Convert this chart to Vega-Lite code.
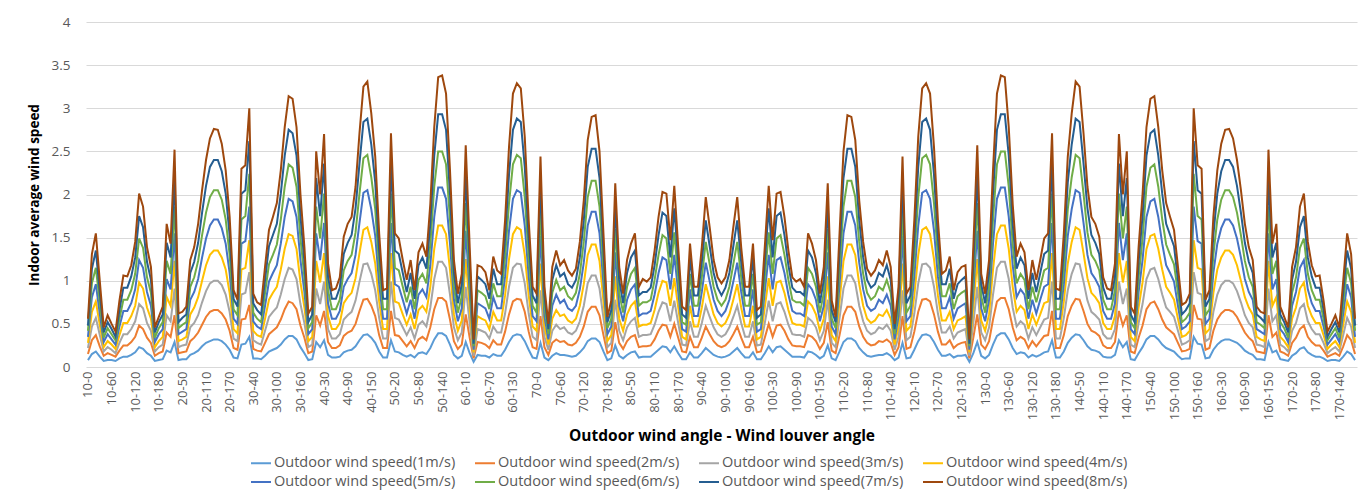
{
"$schema": "https://vega.github.io/schema/vega-lite/v6.json",
"width": 1271, "height": 345,
"autosize": "none",
"padding": {"left": 86, "top": 22, "right": 13, "bottom": 125},
"background": "white",
"config": {"font": "Open Sans", "view": {"stroke": null}},
"data": {"values": [
{"x":"10-0","s1":0.08,"s2":0.15,"s3":0.22,"s4":0.28,"s5":0.35,"s6":0.42,"s7":0.48,"s8":0.56},
{"x":"10-10","s1":0.15,"s2":0.31,"s3":0.47,"s4":0.64,"s5":0.81,"s6":0.97,"s7":1.14,"s8":1.31},
{"x":"10-20","s1":0.18,"s2":0.37,"s3":0.57,"s4":0.76,"s5":0.96,"s6":1.15,"s7":1.35,"s8":1.55},
{"x":"10-30","s1":0.12,"s2":0.24,"s3":0.37,"s4":0.49,"s5":0.62,"s6":0.75,"s7":0.87,"s8":1.0},
{"x":"10-40","s1":0.07,"s2":0.13,"s3":0.18,"s4":0.23,"s5":0.29,"s6":0.34,"s7":0.4,"s8":0.46},
{"x":"10-50","s1":0.08,"s2":0.16,"s3":0.23,"s4":0.3,"s5":0.38,"s6":0.45,"s7":0.52,"s8":0.6},
{"x":"10-60","s1":0.08,"s2":0.14,"s3":0.2,"s4":0.26,"s5":0.32,"s6":0.38,"s7":0.44,"s8":0.5},
{"x":"10-70","s1":0.07,"s2":0.12,"s3":0.16,"s4":0.21,"s5":0.26,"s6":0.31,"s7":0.35,"s8":0.41},
{"x":"10-80","s1":0.1,"s2":0.19,"s3":0.28,"s4":0.37,"s5":0.47,"s6":0.56,"s7":0.66,"s8":0.77},
{"x":"10-90","s1":0.12,"s2":0.25,"s3":0.38,"s4":0.51,"s5":0.65,"s6":0.78,"s7":0.92,"s8":1.06},
{"x":"10-100","s1":0.12,"s2":0.25,"s3":0.38,"s4":0.51,"s5":0.65,"s6":0.78,"s7":0.92,"s8":1.05},
{"x":"10-110","s1":0.14,"s2":0.29,"s3":0.44,"s4":0.59,"s5":0.74,"s6":0.89,"s7":1.05,"s8":1.18},
{"x":"10-120","s1":0.17,"s2":0.35,"s3":0.53,"s4":0.71,"s5":0.9,"s6":1.08,"s7":1.27,"s8":1.45},
{"x":"10-130","s1":0.23,"s2":0.48,"s3":0.73,"s4":0.98,"s5":1.24,"s6":1.49,"s7":1.75,"s8":2.01},
{"x":"10-140","s1":0.21,"s2":0.44,"s3":0.68,"s4":0.91,"s5":1.15,"s6":1.38,"s7":1.62,"s8":1.86},
{"x":"10-150","s1":0.16,"s2":0.34,"s3":0.51,"s4":0.69,"s5":0.87,"s6":1.04,"s7":1.22,"s8":1.39},
{"x":"10-160","s1":0.13,"s2":0.28,"s3":0.42,"s4":0.56,"s5":0.71,"s6":0.86,"s7":1.01,"s8":1.16},
{"x":"10-170","s1":0.07,"s2":0.13,"s3":0.18,"s4":0.23,"s5":0.29,"s6":0.34,"s7":0.4,"s8":0.46},
{"x":"10-180","s1":0.08,"s2":0.16,"s3":0.23,"s4":0.3,"s5":0.38,"s6":0.45,"s7":0.52,"s8":0.58},
{"x":"20-0","s1":0.09,"s2":0.18,"s3":0.26,"s4":0.35,"s5":0.44,"s6":0.52,"s7":0.61,"s8":0.7},
{"x":"20-10","s1":0.19,"s2":0.4,"s3":0.6,"s4":0.81,"s5":1.02,"s6":1.23,"s7":1.44,"s8":1.66},
{"x":"20-20","s1":0.17,"s2":0.35,"s3":0.53,"s4":0.71,"s5":0.9,"s6":1.08,"s7":1.27,"s8":1.43},
{"x":"20-30","s1":0.29,"s2":0.6,"s3":0.91,"s4":1.23,"s5":1.55,"s6":1.86,"s7":2.19,"s8":2.52},
{"x":"20-40","s1":0.08,"s2":0.16,"s3":0.23,"s4":0.3,"s5":0.38,"s6":0.45,"s7":0.52,"s8":0.62},
{"x":"20-50","s1":0.09,"s2":0.17,"s3":0.25,"s4":0.32,"s5":0.41,"s6":0.49,"s7":0.57,"s8":0.64},
{"x":"20-60","s1":0.09,"s2":0.18,"s3":0.26,"s4":0.35,"s5":0.44,"s6":0.52,"s7":0.61,"s8":0.7},
{"x":"20-70","s1":0.14,"s2":0.3,"s3":0.46,"s4":0.61,"s5":0.78,"s6":0.93,"s7":1.09,"s8":1.24},
{"x":"20-80","s1":0.16,"s2":0.34,"s3":0.51,"s4":0.69,"s5":0.87,"s6":1.04,"s7":1.22,"s8":1.39},
{"x":"20-90","s1":0.19,"s2":0.4,"s3":0.6,"s4":0.81,"s5":1.02,"s6":1.23,"s7":1.44,"s8":1.66},
{"x":"20-100","s1":0.24,"s2":0.49,"s3":0.75,"s4":1,"s5":1.27,"s6":1.53,"s7":1.79,"s8":2.05},
{"x":"20-110","s1":0.28,"s2":0.58,"s3":0.88,"s4":1.18,"s5":1.49,"s6":1.79,"s7":2.1,"s8":2.4},
{"x":"20-120","s1":0.3,"s2":0.64,"s3":0.97,"s4":1.3,"s5":1.64,"s6":1.97,"s7":2.32,"s8":2.65},
{"x":"20-130","s1":0.32,"s2":0.66,"s3":1,"s4":1.35,"s5":1.71,"s6":2.05,"s7":2.4,"s8":2.76},
{"x":"20-140","s1":0.32,"s2":0.66,"s3":1,"s4":1.35,"s5":1.71,"s6":2.05,"s7":2.4,"s8":2.75},
{"x":"20-150","s1":0.3,"s2":0.62,"s3":0.95,"s4":1.27,"s5":1.61,"s6":1.94,"s7":2.27,"s8":2.59},
{"x":"20-160","s1":0.26,"s2":0.55,"s3":0.84,"s4":1.13,"s5":1.43,"s6":1.71,"s7":2.01,"s8":2.28},
{"x":"20-170","s1":0.2,"s2":0.42,"s3":0.64,"s4":0.86,"s5":1.09,"s6":1.3,"s7":1.53,"s8":1.74},
{"x":"20-180","s1":0.11,"s2":0.22,"s3":0.33,"s4":0.44,"s5":0.56,"s6":0.67,"s7":0.79,"s8":0.89},
{"x":"30-0","s1":0.1,"s2":0.2,"s3":0.3,"s4":0.39,"s5":0.5,"s6":0.6,"s7":0.7,"s8":0.78},
{"x":"30-10","s1":0.26,"s2":0.55,"s3":0.84,"s4":1.13,"s5":1.43,"s6":1.71,"s7":2.01,"s8":2.3},
{"x":"30-20","s1":0.27,"s2":0.56,"s3":0.86,"s4":1.15,"s5":1.46,"s6":1.75,"s7":2.05,"s8":2.34},
{"x":"30-30","s1":0.35,"s2":0.72,"s3":1.1,"s4":1.47,"s5":1.86,"s6":2.24,"s7":2.62,"s8":3.0},
{"x":"30-40","s1":0.1,"s2":0.21,"s3":0.31,"s4":0.42,"s5":0.53,"s6":0.63,"s7":0.74,"s8":0.85},
{"x":"30-50","s1":0.1,"s2":0.19,"s3":0.28,"s4":0.37,"s5":0.47,"s6":0.56,"s7":0.66,"s8":0.75},
{"x":"30-60","s1":0.09,"s2":0.18,"s3":0.26,"s4":0.35,"s5":0.44,"s6":0.52,"s7":0.61,"s8":0.72},
{"x":"30-70","s1":0.13,"s2":0.28,"s3":0.42,"s4":0.56,"s5":0.71,"s6":0.86,"s7":1.01,"s8":1.16},
{"x":"30-80","s1":0.18,"s2":0.38,"s3":0.58,"s4":0.78,"s5":0.99,"s6":1.19,"s7":1.4,"s8":1.59},
{"x":"30-90","s1":0.2,"s2":0.42,"s3":0.64,"s4":0.86,"s5":1.09,"s6":1.3,"s7":1.53,"s8":1.74},
{"x":"30-100","s1":0.22,"s2":0.46,"s3":0.69,"s4":0.93,"s5":1.18,"s6":1.42,"s7":1.66,"s8":1.9},
{"x":"30-110","s1":0.26,"s2":0.55,"s3":0.84,"s4":1.13,"s5":1.43,"s6":1.71,"s7":2.01,"s8":2.28},
{"x":"30-120","s1":0.32,"s2":0.67,"s3":1.02,"s4":1.37,"s5":1.74,"s6":2.09,"s7":2.45,"s8":2.78},
{"x":"30-130","s1":0.36,"s2":0.76,"s3":1.15,"s4":1.54,"s5":1.95,"s6":2.35,"s7":2.75,"s8":3.14},
{"x":"30-140","s1":0.36,"s2":0.74,"s3":1.13,"s4":1.52,"s5":1.92,"s6":2.31,"s7":2.71,"s8":3.11},
{"x":"30-150","s1":0.32,"s2":0.67,"s3":1.02,"s4":1.37,"s5":1.74,"s6":2.09,"s7":2.45,"s8":2.78},
{"x":"30-160","s1":0.23,"s2":0.48,"s3":0.73,"s4":0.98,"s5":1.24,"s6":1.49,"s7":1.75,"s8":2.0},
{"x":"30-170","s1":0.16,"s2":0.34,"s3":0.51,"s4":0.69,"s5":0.87,"s6":1.04,"s7":1.22,"s8":1.39},
{"x":"30-180","s1":0.08,"s2":0.16,"s3":0.23,"s4":0.3,"s5":0.38,"s6":0.45,"s7":0.52,"s8":0.62},
{"x":"40-0","s1":0.09,"s2":0.18,"s3":0.26,"s4":0.35,"s5":0.44,"s6":0.52,"s7":0.61,"s8":0.7},
{"x":"40-10","s1":0.29,"s2":0.6,"s3":0.91,"s4":1.23,"s5":1.55,"s6":1.86,"s7":2.19,"s8":2.5},
{"x":"40-20","s1":0.23,"s2":0.48,"s3":0.73,"s4":0.98,"s5":1.24,"s6":1.49,"s7":1.75,"s8":2.0},
{"x":"40-30","s1":0.31,"s2":0.65,"s3":0.99,"s4":1.32,"s5":1.67,"s6":2.01,"s7":2.36,"s8":2.7},
{"x":"40-40","s1":0.14,"s2":0.29,"s3":0.44,"s4":0.59,"s5":0.74,"s6":0.89,"s7":1.05,"s8":1.2},
{"x":"40-50","s1":0.11,"s2":0.22,"s3":0.33,"s4":0.44,"s5":0.56,"s6":0.67,"s7":0.79,"s8":0.89},
{"x":"40-60","s1":0.11,"s2":0.22,"s3":0.33,"s4":0.44,"s5":0.56,"s6":0.67,"s7":0.79,"s8":0.91},
{"x":"40-70","s1":0.12,"s2":0.25,"s3":0.38,"s4":0.51,"s5":0.65,"s6":0.78,"s7":0.92,"s8":1.04},
{"x":"40-80","s1":0.17,"s2":0.36,"s3":0.55,"s4":0.74,"s5":0.93,"s6":1.12,"s7":1.31,"s8":1.51},
{"x":"40-90","s1":0.19,"s2":0.4,"s3":0.6,"s4":0.81,"s5":1.02,"s6":1.23,"s7":1.44,"s8":1.66},
{"x":"40-100","s1":0.2,"s2":0.42,"s3":0.64,"s4":0.86,"s5":1.09,"s6":1.3,"s7":1.53,"s8":1.74},
{"x":"40-110","s1":0.24,"s2":0.5,"s3":0.77,"s4":1.03,"s5":1.3,"s6":1.56,"s7":1.84,"s8":2.09},
{"x":"40-120","s1":0.31,"s2":0.65,"s3":0.99,"s4":1.32,"s5":1.67,"s6":2.01,"s7":2.36,"s8":2.71},
{"x":"40-130","s1":0.37,"s2":0.78,"s3":1.19,"s4":1.59,"s5":2.02,"s6":2.42,"s7":2.84,"s8":3.25},
{"x":"40-140","s1":0.38,"s2":0.79,"s3":1.2,"s4":1.62,"s5":2.05,"s6":2.46,"s7":2.88,"s8":3.31},
{"x":"40-150","s1":0.34,"s2":0.71,"s3":1.08,"s4":1.45,"s5":1.83,"s6":2.2,"s7":2.58,"s8":2.94},
{"x":"40-160","s1":0.28,"s2":0.59,"s3":0.89,"s4":1.2,"s5":1.52,"s6":1.83,"s7":2.14,"s8":2.44},
{"x":"40-170","s1":0.18,"s2":0.37,"s3":0.57,"s4":0.76,"s5":0.96,"s6":1.15,"s7":1.35,"s8":1.55},
{"x":"40-180","s1":0.11,"s2":0.22,"s3":0.33,"s4":0.44,"s5":0.56,"s6":0.67,"s7":0.79,"s8":0.89},
{"x":"50-0","s1":0.11,"s2":0.22,"s3":0.33,"s4":0.44,"s5":0.56,"s6":0.67,"s7":0.79,"s8":0.91},
{"x":"50-10","s1":0.31,"s2":0.65,"s3":0.99,"s4":1.32,"s5":1.67,"s6":2.01,"s7":2.36,"s8":2.71},
{"x":"50-20","s1":0.18,"s2":0.37,"s3":0.57,"s4":0.76,"s5":0.96,"s6":1.15,"s7":1.35,"s8":1.55},
{"x":"50-30","s1":0.17,"s2":0.36,"s3":0.55,"s4":0.74,"s5":0.93,"s6":1.12,"s7":1.31,"s8":1.49},
{"x":"50-40","s1":0.14,"s2":0.3,"s3":0.46,"s4":0.61,"s5":0.78,"s6":0.93,"s7":1.09,"s8":1.24},
{"x":"50-50","s1":0.12,"s2":0.24,"s3":0.37,"s4":0.49,"s5":0.62,"s6":0.75,"s7":0.87,"s8":1.01},
{"x":"50-60","s1":0.14,"s2":0.3,"s3":0.46,"s4":0.61,"s5":0.78,"s6":0.93,"s7":1.09,"s8":1.24},
{"x":"50-70","s1":0.11,"s2":0.22,"s3":0.33,"s4":0.44,"s5":0.56,"s6":0.67,"s7":0.79,"s8":0.89},
{"x":"50-80","s1":0.16,"s2":0.32,"s3":0.49,"s4":0.66,"s5":0.84,"s6":1.01,"s7":1.18,"s8":1.33},
{"x":"50-90","s1":0.17,"s2":0.35,"s3":0.53,"s4":0.71,"s5":0.9,"s6":1.08,"s7":1.27,"s8":1.43},
{"x":"50-100","s1":0.15,"s2":0.31,"s3":0.47,"s4":0.64,"s5":0.81,"s6":0.97,"s7":1.14,"s8":1.28},
{"x":"50-110","s1":0.22,"s2":0.46,"s3":0.69,"s4":0.93,"s5":1.18,"s6":1.42,"s7":1.66,"s8":1.89},
{"x":"50-120","s1":0.32,"s2":0.67,"s3":1.02,"s4":1.37,"s5":1.74,"s6":2.09,"s7":2.45,"s8":2.78},
{"x":"50-130","s1":0.39,"s2":0.8,"s3":1.22,"s4":1.64,"s5":2.08,"s6":2.5,"s7":2.93,"s8":3.36},
{"x":"50-140","s1":0.39,"s2":0.8,"s3":1.22,"s4":1.64,"s5":2.08,"s6":2.5,"s7":2.93,"s8":3.38},
{"x":"50-150","s1":0.36,"s2":0.76,"s3":1.15,"s4":1.54,"s5":1.95,"s6":2.35,"s7":2.75,"s8":3.17},
{"x":"50-160","s1":0.26,"s2":0.55,"s3":0.84,"s4":1.13,"s5":1.43,"s6":1.71,"s7":2.01,"s8":2.28},
{"x":"50-170","s1":0.14,"s2":0.3,"s3":0.46,"s4":0.61,"s5":0.78,"s6":0.93,"s7":1.09,"s8":1.24},
{"x":"50-180","s1":0.1,"s2":0.21,"s3":0.31,"s4":0.42,"s5":0.53,"s6":0.63,"s7":0.74,"s8":0.85},
{"x":"60-0","s1":0.13,"s2":0.26,"s3":0.4,"s4":0.54,"s5":0.68,"s6":0.82,"s7":0.96,"s8":1.08},
{"x":"60-10","s1":0.29,"s2":0.61,"s3":0.93,"s4":1.25,"s5":1.58,"s6":1.9,"s7":2.23,"s8":2.57},
{"x":"60-20","s1":0.16,"s2":0.34,"s3":0.51,"s4":0.69,"s5":0.87,"s6":1.04,"s7":1.22,"s8":1.4},
{"x":"60-30","s1":0.06,"s2":0.1,"s3":0.13,"s4":0.17,"s5":0.2,"s6":0.24,"s7":0.27,"s8":0.32},
{"x":"60-40","s1":0.14,"s2":0.29,"s3":0.44,"s4":0.59,"s5":0.74,"s6":0.89,"s7":1.05,"s8":1.18},
{"x":"60-50","s1":0.13,"s2":0.28,"s3":0.42,"s4":0.56,"s5":0.71,"s6":0.86,"s7":1.01,"s8":1.16},
{"x":"60-60","s1":0.13,"s2":0.26,"s3":0.4,"s4":0.54,"s5":0.68,"s6":0.82,"s7":0.96,"s8":1.1},
{"x":"60-70","s1":0.11,"s2":0.22,"s3":0.33,"s4":0.44,"s5":0.56,"s6":0.67,"s7":0.79,"s8":0.89},
{"x":"60-80","s1":0.15,"s2":0.31,"s3":0.47,"s4":0.64,"s5":0.81,"s6":0.97,"s7":1.14,"s8":1.28},
{"x":"60-90","s1":0.13,"s2":0.26,"s3":0.4,"s4":0.54,"s5":0.68,"s6":0.82,"s7":0.96,"s8":1.12},
{"x":"60-100","s1":0.13,"s2":0.26,"s3":0.4,"s4":0.54,"s5":0.68,"s6":0.82,"s7":0.96,"s8":1.08},
{"x":"60-110","s1":0.2,"s2":0.41,"s3":0.62,"s4":0.83,"s5":1.05,"s6":1.27,"s7":1.49,"s8":1.7},
{"x":"60-120","s1":0.29,"s2":0.61,"s3":0.93,"s4":1.25,"s5":1.58,"s6":1.9,"s7":2.23,"s8":2.55},
{"x":"60-130","s1":0.36,"s2":0.76,"s3":1.15,"s4":1.54,"s5":1.95,"s6":2.35,"s7":2.75,"s8":3.17},
{"x":"60-140","s1":0.38,"s2":0.79,"s3":1.2,"s4":1.62,"s5":2.05,"s6":2.46,"s7":2.88,"s8":3.29},
{"x":"60-150","s1":0.37,"s2":0.78,"s3":1.19,"s4":1.59,"s5":2.02,"s6":2.42,"s7":2.84,"s8":3.23},
{"x":"60-160","s1":0.3,"s2":0.64,"s3":0.97,"s4":1.3,"s5":1.64,"s6":1.97,"s7":2.32,"s8":2.67},
{"x":"60-170","s1":0.2,"s2":0.41,"s3":0.62,"s4":0.83,"s5":1.05,"s6":1.27,"s7":1.49,"s8":1.7},
{"x":"60-180","s1":0.11,"s2":0.23,"s3":0.35,"s4":0.47,"s5":0.59,"s6":0.71,"s7":0.83,"s8":0.93},
{"x":"70-0","s1":0.1,"s2":0.21,"s3":0.31,"s4":0.42,"s5":0.53,"s6":0.63,"s7":0.74,"s8":0.85},
{"x":"70-10","s1":0.28,"s2":0.59,"s3":0.89,"s4":1.2,"s5":1.52,"s6":1.83,"s7":2.14,"s8":2.44},
{"x":"70-20","s1":0.11,"s2":0.23,"s3":0.35,"s4":0.47,"s5":0.59,"s6":0.71,"s7":0.83,"s8":0.93},
{"x":"70-30","s1":0.08,"s2":0.14,"s3":0.2,"s4":0.26,"s5":0.32,"s6":0.38,"s7":0.44,"s8":0.5},
{"x":"70-40","s1":0.13,"s2":0.28,"s3":0.42,"s4":0.56,"s5":0.71,"s6":0.86,"s7":1.01,"s8":1.16},
{"x":"70-50","s1":0.16,"s2":0.32,"s3":0.49,"s4":0.66,"s5":0.84,"s6":1.01,"s7":1.18,"s8":1.35},
{"x":"70-60","s1":0.14,"s2":0.29,"s3":0.44,"s4":0.59,"s5":0.74,"s6":0.89,"s7":1.05,"s8":1.18},
{"x":"70-70","s1":0.14,"s2":0.3,"s3":0.46,"s4":0.61,"s5":0.78,"s6":0.93,"s7":1.09,"s8":1.24},
{"x":"70-80","s1":0.13,"s2":0.26,"s3":0.4,"s4":0.54,"s5":0.68,"s6":0.82,"s7":0.96,"s8":1.12},
{"x":"70-90","s1":0.12,"s2":0.25,"s3":0.38,"s4":0.51,"s5":0.65,"s6":0.78,"s7":0.92,"s8":1.06},
{"x":"70-100","s1":0.13,"s2":0.28,"s3":0.42,"s4":0.56,"s5":0.71,"s6":0.86,"s7":1.01,"s8":1.14},
{"x":"70-110","s1":0.17,"s2":0.35,"s3":0.53,"s4":0.71,"s5":0.9,"s6":1.08,"s7":1.27,"s8":1.45},
{"x":"70-120","s1":0.22,"s2":0.47,"s3":0.71,"s4":0.96,"s5":1.21,"s6":1.45,"s7":1.7,"s8":1.93},
{"x":"70-130","s1":0.3,"s2":0.64,"s3":0.97,"s4":1.3,"s5":1.64,"s6":1.97,"s7":2.32,"s8":2.63},
{"x":"70-140","s1":0.33,"s2":0.7,"s3":1.06,"s4":1.42,"s5":1.8,"s6":2.16,"s7":2.53,"s8":2.9},
{"x":"70-150","s1":0.33,"s2":0.7,"s3":1.06,"s4":1.42,"s5":1.8,"s6":2.16,"s7":2.53,"s8":2.92},
{"x":"70-160","s1":0.29,"s2":0.6,"s3":0.91,"s4":1.23,"s5":1.55,"s6":1.86,"s7":2.19,"s8":2.5},
{"x":"70-170","s1":0.18,"s2":0.37,"s3":0.57,"s4":0.76,"s5":0.96,"s6":1.15,"s7":1.35,"s8":1.55},
{"x":"70-180","s1":0.08,"s2":0.16,"s3":0.23,"s4":0.3,"s5":0.38,"s6":0.45,"s7":0.52,"s8":0.58},
{"x":"80-0","s1":0.1,"s2":0.19,"s3":0.28,"s4":0.37,"s5":0.47,"s6":0.56,"s7":0.66,"s8":0.77},
{"x":"80-10","s1":0.25,"s2":0.52,"s3":0.78,"s4":1.05,"s5":1.33,"s6":1.6,"s7":1.88,"s8":2.13},
{"x":"80-20","s1":0.13,"s2":0.28,"s3":0.42,"s4":0.56,"s5":0.71,"s6":0.86,"s7":1.01,"s8":1.16},
{"x":"80-30","s1":0.1,"s2":0.21,"s3":0.31,"s4":0.42,"s5":0.53,"s6":0.63,"s7":0.74,"s8":0.85},
{"x":"80-40","s1":0.14,"s2":0.3,"s3":0.46,"s4":0.61,"s5":0.78,"s6":0.93,"s7":1.09,"s8":1.24},
{"x":"80-50","s1":0.17,"s2":0.35,"s3":0.53,"s4":0.71,"s5":0.9,"s6":1.08,"s7":1.27,"s8":1.43},
{"x":"80-60","s1":0.18,"s2":0.37,"s3":0.57,"s4":0.76,"s5":0.96,"s6":1.15,"s7":1.35,"s8":1.55},
{"x":"80-70","s1":0.11,"s2":0.23,"s3":0.35,"s4":0.47,"s5":0.59,"s6":0.71,"s7":0.83,"s8":0.93},
{"x":"80-80","s1":0.12,"s2":0.24,"s3":0.37,"s4":0.49,"s5":0.62,"s6":0.75,"s7":0.87,"s8":1.02},
{"x":"80-90","s1":0.12,"s2":0.24,"s3":0.37,"s4":0.49,"s5":0.62,"s6":0.75,"s7":0.87,"s8":0.99},
{"x":"80-100","s1":0.12,"s2":0.25,"s3":0.38,"s4":0.51,"s5":0.65,"s6":0.78,"s7":0.92,"s8":1.04},
{"x":"80-110","s1":0.16,"s2":0.32,"s3":0.49,"s4":0.66,"s5":0.84,"s6":1.01,"s7":1.18,"s8":1.35},
{"x":"80-120","s1":0.2,"s2":0.42,"s3":0.64,"s4":0.86,"s5":1.09,"s6":1.3,"s7":1.53,"s8":1.74},
{"x":"80-130","s1":0.24,"s2":0.49,"s3":0.75,"s4":1,"s5":1.27,"s6":1.53,"s7":1.79,"s8":2.03},
{"x":"80-140","s1":0.23,"s2":0.48,"s3":0.73,"s4":0.98,"s5":1.24,"s6":1.49,"s7":1.75,"s8":2.01},
{"x":"80-150","s1":0.17,"s2":0.35,"s3":0.53,"s4":0.71,"s5":0.9,"s6":1.08,"s7":1.27,"s8":1.47},
{"x":"80-160","s1":0.24,"s2":0.5,"s3":0.77,"s4":1.03,"s5":1.3,"s6":1.56,"s7":1.84,"s8":2.1},
{"x":"80-170","s1":0.16,"s2":0.34,"s3":0.51,"s4":0.69,"s5":0.87,"s6":1.04,"s7":1.22,"s8":1.39},
{"x":"80-180","s1":0.09,"s2":0.18,"s3":0.26,"s4":0.35,"s5":0.44,"s6":0.52,"s7":0.61,"s8":0.7},
{"x":"90-0","s1":0.09,"s2":0.17,"s3":0.25,"s4":0.32,"s5":0.41,"s6":0.49,"s7":0.57,"s8":0.66},
{"x":"90-10","s1":0.17,"s2":0.35,"s3":0.53,"s4":0.71,"s5":0.9,"s6":1.08,"s7":1.27,"s8":1.43},
{"x":"90-20","s1":0.11,"s2":0.23,"s3":0.35,"s4":0.47,"s5":0.59,"s6":0.71,"s7":0.83,"s8":0.93},
{"x":"90-30","s1":0.11,"s2":0.23,"s3":0.35,"s4":0.47,"s5":0.59,"s6":0.71,"s7":0.83,"s8":0.93},
{"x":"90-40","s1":0.16,"s2":0.34,"s3":0.51,"s4":0.69,"s5":0.87,"s6":1.04,"s7":1.22,"s8":1.39},
{"x":"90-50","s1":0.22,"s2":0.47,"s3":0.71,"s4":0.96,"s5":1.21,"s6":1.45,"s7":1.7,"s8":1.97},
{"x":"90-60","s1":0.18,"s2":0.38,"s3":0.58,"s4":0.78,"s5":0.99,"s6":1.19,"s7":1.4,"s8":1.62},
{"x":"90-70","s1":0.14,"s2":0.3,"s3":0.46,"s4":0.61,"s5":0.78,"s6":0.93,"s7":1.09,"s8":1.24},
{"x":"90-80","s1":0.12,"s2":0.25,"s3":0.38,"s4":0.51,"s5":0.65,"s6":0.78,"s7":0.92,"s8":1.04},
{"x":"90-90","s1":0.11,"s2":0.23,"s3":0.35,"s4":0.47,"s5":0.59,"s6":0.71,"s7":0.83,"s8":0.97},
{"x":"90-100","s1":0.12,"s2":0.25,"s3":0.38,"s4":0.51,"s5":0.65,"s6":0.78,"s7":0.92,"s8":1.04},
{"x":"90-110","s1":0.14,"s2":0.3,"s3":0.46,"s4":0.61,"s5":0.78,"s6":0.93,"s7":1.09,"s8":1.24},
{"x":"90-120","s1":0.18,"s2":0.38,"s3":0.58,"s4":0.78,"s5":0.99,"s6":1.19,"s7":1.4,"s8":1.62},
{"x":"90-130","s1":0.22,"s2":0.47,"s3":0.71,"s4":0.96,"s5":1.21,"s6":1.45,"s7":1.7,"s8":1.97},
{"x":"90-140","s1":0.16,"s2":0.34,"s3":0.51,"s4":0.69,"s5":0.87,"s6":1.04,"s7":1.22,"s8":1.39},
{"x":"90-150","s1":0.11,"s2":0.23,"s3":0.35,"s4":0.47,"s5":0.59,"s6":0.71,"s7":0.83,"s8":0.93},
{"x":"90-160","s1":0.11,"s2":0.23,"s3":0.35,"s4":0.47,"s5":0.59,"s6":0.71,"s7":0.83,"s8":0.93},
{"x":"90-170","s1":0.17,"s2":0.35,"s3":0.53,"s4":0.71,"s5":0.9,"s6":1.08,"s7":1.27,"s8":1.43},
{"x":"90-180","s1":0.09,"s2":0.17,"s3":0.25,"s4":0.32,"s5":0.41,"s6":0.49,"s7":0.57,"s8":0.66},
{"x":"100-0","s1":0.09,"s2":0.18,"s3":0.26,"s4":0.35,"s5":0.44,"s6":0.52,"s7":0.61,"s8":0.7},
{"x":"100-10","s1":0.16,"s2":0.34,"s3":0.51,"s4":0.69,"s5":0.87,"s6":1.04,"s7":1.22,"s8":1.39},
{"x":"100-20","s1":0.24,"s2":0.5,"s3":0.77,"s4":1.03,"s5":1.3,"s6":1.56,"s7":1.84,"s8":2.1},
{"x":"100-30","s1":0.17,"s2":0.35,"s3":0.53,"s4":0.71,"s5":0.9,"s6":1.08,"s7":1.27,"s8":1.47},
{"x":"100-40","s1":0.23,"s2":0.48,"s3":0.73,"s4":0.98,"s5":1.24,"s6":1.49,"s7":1.75,"s8":2.01},
{"x":"100-50","s1":0.24,"s2":0.49,"s3":0.75,"s4":1,"s5":1.27,"s6":1.53,"s7":1.79,"s8":2.03},
{"x":"100-60","s1":0.2,"s2":0.42,"s3":0.64,"s4":0.86,"s5":1.09,"s6":1.3,"s7":1.53,"s8":1.74},
{"x":"100-70","s1":0.16,"s2":0.32,"s3":0.49,"s4":0.66,"s5":0.84,"s6":1.01,"s7":1.18,"s8":1.35},
{"x":"100-80","s1":0.12,"s2":0.25,"s3":0.38,"s4":0.51,"s5":0.65,"s6":0.78,"s7":0.92,"s8":1.04},
{"x":"100-90","s1":0.12,"s2":0.24,"s3":0.37,"s4":0.49,"s5":0.62,"s6":0.75,"s7":0.87,"s8":0.99},
{"x":"100-100","s1":0.12,"s2":0.24,"s3":0.37,"s4":0.49,"s5":0.62,"s6":0.75,"s7":0.87,"s8":1.02},
{"x":"100-110","s1":0.11,"s2":0.23,"s3":0.35,"s4":0.47,"s5":0.59,"s6":0.71,"s7":0.83,"s8":0.93},
{"x":"100-120","s1":0.18,"s2":0.37,"s3":0.57,"s4":0.76,"s5":0.96,"s6":1.15,"s7":1.35,"s8":1.55},
{"x":"100-130","s1":0.17,"s2":0.35,"s3":0.53,"s4":0.71,"s5":0.9,"s6":1.08,"s7":1.27,"s8":1.43},
{"x":"100-140","s1":0.14,"s2":0.3,"s3":0.46,"s4":0.61,"s5":0.78,"s6":0.93,"s7":1.09,"s8":1.24},
{"x":"100-150","s1":0.1,"s2":0.21,"s3":0.31,"s4":0.42,"s5":0.53,"s6":0.63,"s7":0.74,"s8":0.85},
{"x":"100-160","s1":0.13,"s2":0.28,"s3":0.42,"s4":0.56,"s5":0.71,"s6":0.86,"s7":1.01,"s8":1.16},
{"x":"100-170","s1":0.25,"s2":0.52,"s3":0.78,"s4":1.05,"s5":1.33,"s6":1.6,"s7":1.88,"s8":2.13},
{"x":"100-180","s1":0.1,"s2":0.19,"s3":0.28,"s4":0.37,"s5":0.47,"s6":0.56,"s7":0.66,"s8":0.77},
{"x":"110-0","s1":0.08,"s2":0.16,"s3":0.23,"s4":0.3,"s5":0.38,"s6":0.45,"s7":0.52,"s8":0.58},
{"x":"110-10","s1":0.18,"s2":0.37,"s3":0.57,"s4":0.76,"s5":0.96,"s6":1.15,"s7":1.35,"s8":1.55},
{"x":"110-20","s1":0.29,"s2":0.6,"s3":0.91,"s4":1.23,"s5":1.55,"s6":1.86,"s7":2.19,"s8":2.5},
{"x":"110-30","s1":0.33,"s2":0.7,"s3":1.06,"s4":1.42,"s5":1.8,"s6":2.16,"s7":2.53,"s8":2.92},
{"x":"110-40","s1":0.33,"s2":0.7,"s3":1.06,"s4":1.42,"s5":1.8,"s6":2.16,"s7":2.53,"s8":2.9},
{"x":"110-50","s1":0.3,"s2":0.64,"s3":0.97,"s4":1.3,"s5":1.64,"s6":1.97,"s7":2.32,"s8":2.63},
{"x":"110-60","s1":0.22,"s2":0.47,"s3":0.71,"s4":0.96,"s5":1.21,"s6":1.45,"s7":1.7,"s8":1.93},
{"x":"110-70","s1":0.17,"s2":0.35,"s3":0.53,"s4":0.71,"s5":0.9,"s6":1.08,"s7":1.27,"s8":1.45},
{"x":"110-80","s1":0.13,"s2":0.28,"s3":0.42,"s4":0.56,"s5":0.71,"s6":0.86,"s7":1.01,"s8":1.14},
{"x":"110-90","s1":0.12,"s2":0.25,"s3":0.38,"s4":0.51,"s5":0.65,"s6":0.78,"s7":0.92,"s8":1.06},
{"x":"110-100","s1":0.13,"s2":0.26,"s3":0.4,"s4":0.54,"s5":0.68,"s6":0.82,"s7":0.96,"s8":1.12},
{"x":"110-110","s1":0.14,"s2":0.3,"s3":0.46,"s4":0.61,"s5":0.78,"s6":0.93,"s7":1.09,"s8":1.24},
{"x":"110-120","s1":0.14,"s2":0.29,"s3":0.44,"s4":0.59,"s5":0.74,"s6":0.89,"s7":1.05,"s8":1.18},
{"x":"110-130","s1":0.16,"s2":0.32,"s3":0.49,"s4":0.66,"s5":0.84,"s6":1.01,"s7":1.18,"s8":1.35},
{"x":"110-140","s1":0.13,"s2":0.28,"s3":0.42,"s4":0.56,"s5":0.71,"s6":0.86,"s7":1.01,"s8":1.16},
{"x":"110-150","s1":0.08,"s2":0.14,"s3":0.2,"s4":0.26,"s5":0.32,"s6":0.38,"s7":0.44,"s8":0.5},
{"x":"110-160","s1":0.11,"s2":0.23,"s3":0.35,"s4":0.47,"s5":0.59,"s6":0.71,"s7":0.83,"s8":0.93},
{"x":"110-170","s1":0.28,"s2":0.59,"s3":0.89,"s4":1.2,"s5":1.52,"s6":1.83,"s7":2.14,"s8":2.44},
{"x":"110-180","s1":0.1,"s2":0.21,"s3":0.31,"s4":0.42,"s5":0.53,"s6":0.63,"s7":0.74,"s8":0.85},
{"x":"120-0","s1":0.11,"s2":0.23,"s3":0.35,"s4":0.47,"s5":0.59,"s6":0.71,"s7":0.83,"s8":0.93},
{"x":"120-10","s1":0.2,"s2":0.41,"s3":0.62,"s4":0.83,"s5":1.05,"s6":1.27,"s7":1.49,"s8":1.7},
{"x":"120-20","s1":0.3,"s2":0.64,"s3":0.97,"s4":1.3,"s5":1.64,"s6":1.97,"s7":2.32,"s8":2.67},
{"x":"120-30","s1":0.37,"s2":0.78,"s3":1.19,"s4":1.59,"s5":2.02,"s6":2.42,"s7":2.84,"s8":3.23},
{"x":"120-40","s1":0.38,"s2":0.79,"s3":1.2,"s4":1.62,"s5":2.05,"s6":2.46,"s7":2.88,"s8":3.29},
{"x":"120-50","s1":0.36,"s2":0.76,"s3":1.15,"s4":1.54,"s5":1.95,"s6":2.35,"s7":2.75,"s8":3.17},
{"x":"120-60","s1":0.29,"s2":0.61,"s3":0.93,"s4":1.25,"s5":1.58,"s6":1.9,"s7":2.23,"s8":2.55},
{"x":"120-70","s1":0.2,"s2":0.41,"s3":0.62,"s4":0.83,"s5":1.05,"s6":1.27,"s7":1.49,"s8":1.7},
{"x":"120-80","s1":0.13,"s2":0.26,"s3":0.4,"s4":0.54,"s5":0.68,"s6":0.82,"s7":0.96,"s8":1.08},
{"x":"120-90","s1":0.13,"s2":0.26,"s3":0.4,"s4":0.54,"s5":0.68,"s6":0.82,"s7":0.96,"s8":1.12},
{"x":"120-100","s1":0.15,"s2":0.31,"s3":0.47,"s4":0.64,"s5":0.81,"s6":0.97,"s7":1.14,"s8":1.28},
{"x":"120-110","s1":0.11,"s2":0.22,"s3":0.33,"s4":0.44,"s5":0.56,"s6":0.67,"s7":0.79,"s8":0.89},
{"x":"120-120","s1":0.13,"s2":0.26,"s3":0.4,"s4":0.54,"s5":0.68,"s6":0.82,"s7":0.96,"s8":1.1},
{"x":"120-130","s1":0.13,"s2":0.28,"s3":0.42,"s4":0.56,"s5":0.71,"s6":0.86,"s7":1.01,"s8":1.16},
{"x":"120-140","s1":0.14,"s2":0.29,"s3":0.44,"s4":0.59,"s5":0.74,"s6":0.89,"s7":1.05,"s8":1.18},
{"x":"120-150","s1":0.06,"s2":0.1,"s3":0.13,"s4":0.17,"s5":0.2,"s6":0.24,"s7":0.27,"s8":0.32},
{"x":"120-160","s1":0.16,"s2":0.34,"s3":0.51,"s4":0.69,"s5":0.87,"s6":1.04,"s7":1.22,"s8":1.4},
{"x":"120-170","s1":0.29,"s2":0.61,"s3":0.93,"s4":1.25,"s5":1.58,"s6":1.9,"s7":2.23,"s8":2.57},
{"x":"120-180","s1":0.13,"s2":0.26,"s3":0.4,"s4":0.54,"s5":0.68,"s6":0.82,"s7":0.96,"s8":1.08},
{"x":"130-0","s1":0.1,"s2":0.21,"s3":0.31,"s4":0.42,"s5":0.53,"s6":0.63,"s7":0.74,"s8":0.85},
{"x":"130-10","s1":0.14,"s2":0.3,"s3":0.46,"s4":0.61,"s5":0.78,"s6":0.93,"s7":1.09,"s8":1.24},
{"x":"130-20","s1":0.26,"s2":0.55,"s3":0.84,"s4":1.13,"s5":1.43,"s6":1.71,"s7":2.01,"s8":2.28},
{"x":"130-30","s1":0.36,"s2":0.76,"s3":1.15,"s4":1.54,"s5":1.95,"s6":2.35,"s7":2.75,"s8":3.17},
{"x":"130-40","s1":0.39,"s2":0.8,"s3":1.22,"s4":1.64,"s5":2.08,"s6":2.5,"s7":2.93,"s8":3.38},
{"x":"130-50","s1":0.39,"s2":0.8,"s3":1.22,"s4":1.64,"s5":2.08,"s6":2.5,"s7":2.93,"s8":3.36},
{"x":"130-60","s1":0.32,"s2":0.67,"s3":1.02,"s4":1.37,"s5":1.74,"s6":2.09,"s7":2.45,"s8":2.78},
{"x":"130-70","s1":0.22,"s2":0.46,"s3":0.69,"s4":0.93,"s5":1.18,"s6":1.42,"s7":1.66,"s8":1.89},
{"x":"130-80","s1":0.15,"s2":0.31,"s3":0.47,"s4":0.64,"s5":0.81,"s6":0.97,"s7":1.14,"s8":1.28},
{"x":"130-90","s1":0.17,"s2":0.35,"s3":0.53,"s4":0.71,"s5":0.9,"s6":1.08,"s7":1.27,"s8":1.43},
{"x":"130-100","s1":0.16,"s2":0.32,"s3":0.49,"s4":0.66,"s5":0.84,"s6":1.01,"s7":1.18,"s8":1.33},
{"x":"130-110","s1":0.11,"s2":0.22,"s3":0.33,"s4":0.44,"s5":0.56,"s6":0.67,"s7":0.79,"s8":0.89},
{"x":"130-120","s1":0.14,"s2":0.3,"s3":0.46,"s4":0.61,"s5":0.78,"s6":0.93,"s7":1.09,"s8":1.24},
{"x":"130-130","s1":0.12,"s2":0.24,"s3":0.37,"s4":0.49,"s5":0.62,"s6":0.75,"s7":0.87,"s8":1.01},
{"x":"130-140","s1":0.14,"s2":0.3,"s3":0.46,"s4":0.61,"s5":0.78,"s6":0.93,"s7":1.09,"s8":1.24},
{"x":"130-150","s1":0.17,"s2":0.36,"s3":0.55,"s4":0.74,"s5":0.93,"s6":1.12,"s7":1.31,"s8":1.49},
{"x":"130-160","s1":0.18,"s2":0.37,"s3":0.57,"s4":0.76,"s5":0.96,"s6":1.15,"s7":1.35,"s8":1.55},
{"x":"130-170","s1":0.31,"s2":0.65,"s3":0.99,"s4":1.32,"s5":1.67,"s6":2.01,"s7":2.36,"s8":2.71},
{"x":"130-180","s1":0.11,"s2":0.22,"s3":0.33,"s4":0.44,"s5":0.56,"s6":0.67,"s7":0.79,"s8":0.91},
{"x":"140-0","s1":0.11,"s2":0.22,"s3":0.33,"s4":0.44,"s5":0.56,"s6":0.67,"s7":0.79,"s8":0.89},
{"x":"140-10","s1":0.18,"s2":0.37,"s3":0.57,"s4":0.76,"s5":0.96,"s6":1.15,"s7":1.35,"s8":1.55},
{"x":"140-20","s1":0.28,"s2":0.59,"s3":0.89,"s4":1.2,"s5":1.52,"s6":1.83,"s7":2.14,"s8":2.44},
{"x":"140-30","s1":0.34,"s2":0.71,"s3":1.08,"s4":1.45,"s5":1.83,"s6":2.2,"s7":2.58,"s8":2.94},
{"x":"140-40","s1":0.38,"s2":0.79,"s3":1.2,"s4":1.62,"s5":2.05,"s6":2.46,"s7":2.88,"s8":3.31},
{"x":"140-50","s1":0.37,"s2":0.78,"s3":1.19,"s4":1.59,"s5":2.02,"s6":2.42,"s7":2.84,"s8":3.25},
{"x":"140-60","s1":0.31,"s2":0.65,"s3":0.99,"s4":1.32,"s5":1.67,"s6":2.01,"s7":2.36,"s8":2.71},
{"x":"140-70","s1":0.24,"s2":0.5,"s3":0.77,"s4":1.03,"s5":1.3,"s6":1.56,"s7":1.84,"s8":2.09},
{"x":"140-80","s1":0.2,"s2":0.42,"s3":0.64,"s4":0.86,"s5":1.09,"s6":1.3,"s7":1.53,"s8":1.74},
{"x":"140-90","s1":0.19,"s2":0.4,"s3":0.6,"s4":0.81,"s5":1.02,"s6":1.23,"s7":1.44,"s8":1.66},
{"x":"140-100","s1":0.17,"s2":0.36,"s3":0.55,"s4":0.74,"s5":0.93,"s6":1.12,"s7":1.31,"s8":1.51},
{"x":"140-110","s1":0.12,"s2":0.25,"s3":0.38,"s4":0.51,"s5":0.65,"s6":0.78,"s7":0.92,"s8":1.04},
{"x":"140-120","s1":0.11,"s2":0.22,"s3":0.33,"s4":0.44,"s5":0.56,"s6":0.67,"s7":0.79,"s8":0.91},
{"x":"140-130","s1":0.11,"s2":0.22,"s3":0.33,"s4":0.44,"s5":0.56,"s6":0.67,"s7":0.79,"s8":0.89},
{"x":"140-140","s1":0.14,"s2":0.29,"s3":0.44,"s4":0.59,"s5":0.74,"s6":0.89,"s7":1.05,"s8":1.2},
{"x":"140-150","s1":0.31,"s2":0.65,"s3":0.99,"s4":1.32,"s5":1.67,"s6":2.01,"s7":2.36,"s8":2.7},
{"x":"140-160","s1":0.23,"s2":0.48,"s3":0.73,"s4":0.98,"s5":1.24,"s6":1.49,"s7":1.75,"s8":2.0},
{"x":"140-170","s1":0.29,"s2":0.6,"s3":0.91,"s4":1.23,"s5":1.55,"s6":1.86,"s7":2.19,"s8":2.5},
{"x":"140-180","s1":0.09,"s2":0.18,"s3":0.26,"s4":0.35,"s5":0.44,"s6":0.52,"s7":0.61,"s8":0.7},
{"x":"150-0","s1":0.08,"s2":0.16,"s3":0.23,"s4":0.3,"s5":0.38,"s6":0.45,"s7":0.52,"s8":0.62},
{"x":"150-10","s1":0.16,"s2":0.34,"s3":0.51,"s4":0.69,"s5":0.87,"s6":1.04,"s7":1.22,"s8":1.39},
{"x":"150-20","s1":0.23,"s2":0.48,"s3":0.73,"s4":0.98,"s5":1.24,"s6":1.49,"s7":1.75,"s8":2.0},
{"x":"150-30","s1":0.32,"s2":0.67,"s3":1.02,"s4":1.37,"s5":1.74,"s6":2.09,"s7":2.45,"s8":2.78},
{"x":"150-40","s1":0.36,"s2":0.74,"s3":1.13,"s4":1.52,"s5":1.92,"s6":2.31,"s7":2.71,"s8":3.11},
{"x":"150-50","s1":0.36,"s2":0.76,"s3":1.15,"s4":1.54,"s5":1.95,"s6":2.35,"s7":2.75,"s8":3.14},
{"x":"150-60","s1":0.32,"s2":0.67,"s3":1.02,"s4":1.37,"s5":1.74,"s6":2.09,"s7":2.45,"s8":2.78},
{"x":"150-70","s1":0.26,"s2":0.55,"s3":0.84,"s4":1.13,"s5":1.43,"s6":1.71,"s7":2.01,"s8":2.28},
{"x":"150-80","s1":0.22,"s2":0.46,"s3":0.69,"s4":0.93,"s5":1.18,"s6":1.42,"s7":1.66,"s8":1.9},
{"x":"150-90","s1":0.2,"s2":0.42,"s3":0.64,"s4":0.86,"s5":1.09,"s6":1.3,"s7":1.53,"s8":1.74},
{"x":"150-100","s1":0.18,"s2":0.38,"s3":0.58,"s4":0.78,"s5":0.99,"s6":1.19,"s7":1.4,"s8":1.59},
{"x":"150-110","s1":0.13,"s2":0.28,"s3":0.42,"s4":0.56,"s5":0.71,"s6":0.86,"s7":1.01,"s8":1.16},
{"x":"150-120","s1":0.09,"s2":0.18,"s3":0.26,"s4":0.35,"s5":0.44,"s6":0.52,"s7":0.61,"s8":0.72},
{"x":"150-130","s1":0.1,"s2":0.19,"s3":0.28,"s4":0.37,"s5":0.47,"s6":0.56,"s7":0.66,"s8":0.75},
{"x":"150-140","s1":0.1,"s2":0.21,"s3":0.31,"s4":0.42,"s5":0.53,"s6":0.63,"s7":0.74,"s8":0.85},
{"x":"150-150","s1":0.35,"s2":0.72,"s3":1.1,"s4":1.47,"s5":1.86,"s6":2.24,"s7":2.62,"s8":3.0},
{"x":"150-160","s1":0.27,"s2":0.56,"s3":0.86,"s4":1.15,"s5":1.46,"s6":1.75,"s7":2.05,"s8":2.34},
{"x":"150-170","s1":0.26,"s2":0.55,"s3":0.84,"s4":1.13,"s5":1.43,"s6":1.71,"s7":2.01,"s8":2.3},
{"x":"150-180","s1":0.1,"s2":0.2,"s3":0.3,"s4":0.39,"s5":0.5,"s6":0.6,"s7":0.7,"s8":0.78},
{"x":"160-0","s1":0.11,"s2":0.22,"s3":0.33,"s4":0.44,"s5":0.56,"s6":0.67,"s7":0.79,"s8":0.89},
{"x":"160-10","s1":0.2,"s2":0.42,"s3":0.64,"s4":0.86,"s5":1.09,"s6":1.3,"s7":1.53,"s8":1.74},
{"x":"160-20","s1":0.26,"s2":0.55,"s3":0.84,"s4":1.13,"s5":1.43,"s6":1.71,"s7":2.01,"s8":2.28},
{"x":"160-30","s1":0.3,"s2":0.62,"s3":0.95,"s4":1.27,"s5":1.61,"s6":1.94,"s7":2.27,"s8":2.59},
{"x":"160-40","s1":0.32,"s2":0.66,"s3":1,"s4":1.35,"s5":1.71,"s6":2.05,"s7":2.4,"s8":2.75},
{"x":"160-50","s1":0.32,"s2":0.66,"s3":1,"s4":1.35,"s5":1.71,"s6":2.05,"s7":2.4,"s8":2.76},
{"x":"160-60","s1":0.3,"s2":0.64,"s3":0.97,"s4":1.3,"s5":1.64,"s6":1.97,"s7":2.32,"s8":2.65},
{"x":"160-70","s1":0.28,"s2":0.58,"s3":0.88,"s4":1.18,"s5":1.49,"s6":1.79,"s7":2.1,"s8":2.4},
{"x":"160-80","s1":0.24,"s2":0.49,"s3":0.75,"s4":1,"s5":1.27,"s6":1.53,"s7":1.79,"s8":2.05},
{"x":"160-90","s1":0.19,"s2":0.4,"s3":0.6,"s4":0.81,"s5":1.02,"s6":1.23,"s7":1.44,"s8":1.66},
{"x":"160-100","s1":0.16,"s2":0.34,"s3":0.51,"s4":0.69,"s5":0.87,"s6":1.04,"s7":1.22,"s8":1.39},
{"x":"160-110","s1":0.14,"s2":0.3,"s3":0.46,"s4":0.61,"s5":0.78,"s6":0.93,"s7":1.09,"s8":1.24},
{"x":"160-120","s1":0.09,"s2":0.18,"s3":0.26,"s4":0.35,"s5":0.44,"s6":0.52,"s7":0.61,"s8":0.7},
{"x":"160-130","s1":0.09,"s2":0.17,"s3":0.25,"s4":0.32,"s5":0.41,"s6":0.49,"s7":0.57,"s8":0.64},
{"x":"160-140","s1":0.08,"s2":0.16,"s3":0.23,"s4":0.3,"s5":0.38,"s6":0.45,"s7":0.52,"s8":0.62},
{"x":"160-150","s1":0.29,"s2":0.6,"s3":0.91,"s4":1.23,"s5":1.55,"s6":1.86,"s7":2.19,"s8":2.52},
{"x":"160-160","s1":0.17,"s2":0.35,"s3":0.53,"s4":0.71,"s5":0.9,"s6":1.08,"s7":1.27,"s8":1.43},
{"x":"160-170","s1":0.19,"s2":0.4,"s3":0.6,"s4":0.81,"s5":1.02,"s6":1.23,"s7":1.44,"s8":1.66},
{"x":"160-180","s1":0.09,"s2":0.18,"s3":0.26,"s4":0.35,"s5":0.44,"s6":0.52,"s7":0.61,"s8":0.7},
{"x":"170-0","s1":0.08,"s2":0.16,"s3":0.23,"s4":0.3,"s5":0.38,"s6":0.45,"s7":0.52,"s8":0.58},
{"x":"170-10","s1":0.07,"s2":0.13,"s3":0.18,"s4":0.23,"s5":0.29,"s6":0.34,"s7":0.4,"s8":0.46},
{"x":"170-20","s1":0.13,"s2":0.28,"s3":0.42,"s4":0.56,"s5":0.71,"s6":0.86,"s7":1.01,"s8":1.16},
{"x":"170-30","s1":0.16,"s2":0.34,"s3":0.51,"s4":0.69,"s5":0.87,"s6":1.04,"s7":1.22,"s8":1.39},
{"x":"170-40","s1":0.21,"s2":0.44,"s3":0.68,"s4":0.91,"s5":1.15,"s6":1.38,"s7":1.62,"s8":1.86},
{"x":"170-50","s1":0.23,"s2":0.48,"s3":0.73,"s4":0.98,"s5":1.24,"s6":1.49,"s7":1.75,"s8":2.01},
{"x":"170-60","s1":0.17,"s2":0.35,"s3":0.53,"s4":0.71,"s5":0.9,"s6":1.08,"s7":1.27,"s8":1.45},
{"x":"170-70","s1":0.14,"s2":0.29,"s3":0.44,"s4":0.59,"s5":0.74,"s6":0.89,"s7":1.05,"s8":1.18},
{"x":"170-80","s1":0.12,"s2":0.25,"s3":0.38,"s4":0.51,"s5":0.65,"s6":0.78,"s7":0.92,"s8":1.05},
{"x":"170-90","s1":0.12,"s2":0.25,"s3":0.38,"s4":0.51,"s5":0.65,"s6":0.78,"s7":0.92,"s8":1.06},
{"x":"170-100","s1":0.1,"s2":0.19,"s3":0.28,"s4":0.37,"s5":0.47,"s6":0.56,"s7":0.66,"s8":0.77},
{"x":"170-110","s1":0.07,"s2":0.12,"s3":0.16,"s4":0.21,"s5":0.26,"s6":0.31,"s7":0.35,"s8":0.41},
{"x":"170-120","s1":0.08,"s2":0.14,"s3":0.2,"s4":0.26,"s5":0.32,"s6":0.38,"s7":0.44,"s8":0.5},
{"x":"170-130","s1":0.08,"s2":0.16,"s3":0.23,"s4":0.3,"s5":0.38,"s6":0.45,"s7":0.52,"s8":0.6},
{"x":"170-140","s1":0.07,"s2":0.13,"s3":0.18,"s4":0.23,"s5":0.29,"s6":0.34,"s7":0.4,"s8":0.46},
{"x":"170-150","s1":0.12,"s2":0.24,"s3":0.37,"s4":0.49,"s5":0.62,"s6":0.75,"s7":0.87,"s8":1.0},
{"x":"170-160","s1":0.18,"s2":0.37,"s3":0.57,"s4":0.76,"s5":0.96,"s6":1.15,"s7":1.35,"s8":1.55},
{"x":"170-170","s1":0.15,"s2":0.31,"s3":0.47,"s4":0.64,"s5":0.81,"s6":0.97,"s7":1.14,"s8":1.31},
{"x":"170-180","s1":0.08,"s2":0.15,"s3":0.22,"s4":0.28,"s5":0.35,"s6":0.42,"s7":0.48,"s8":0.56}
]},
"transform": [{"fold": ["s1","s2","s3","s4","s5","s6","s7","s8"], "as": ["k","v"]}],
"mark": {"type": "line", "strokeWidth": 2},
"encoding": {
  "x": {"field": "x", "type": "ordinal", "sort": null,
    "scale": {"type": "point", "padding": 0.5},
    "axis": {"values": ["10-0","10-60","10-120","10-180","20-50","20-110","20-170","30-40","30-100","30-160","40-30","40-90","40-150","50-20","50-80","50-140","60-10","60-70","60-130","70-0","70-60","70-120","70-180","80-50","80-110","80-170","90-40","90-100","90-160","100-30","100-90","100-150","110-20","110-80","110-140","120-10","120-70","120-130","130-0","130-60","130-120","130-180","140-50","140-110","140-170","150-40","150-100","150-160","160-30","160-90","160-150","170-20","170-80","170-140"],
      "labelAngle": -90, "labelAlign": "right", "labelBaseline": "middle", "ticks": false, "domain": false, "grid": false,
      "labelColor": "#595959", "labelFontSize": 13, "labelPadding": 4,
      "title": "Outdoor wind angle - Wind louver angle", "titleFontSize": 15.5, "titleFontWeight": "bold", "titleColor": "#000000", "titlePadding": 9}},
  "y": {"field": "v", "type": "quantitative",
    "scale": {"domain": [0, 4], "nice": false},
    "axis": {"values": [0, 0.5, 1, 1.5, 2, 2.5, 3, 3.5, 4], "format": "~g", "domain": false, "ticks": false,
      "gridColor": "#D9D9D9", "gridWidth": 1, "labelColor": "#595959", "labelFontSize": 13.5, "labelPadding": 16,
      "title": "Indoor average wind speed", "titleFontSize": 13.5, "titleFontWeight": "bold", "titleColor": "#000000", "titlePadding": 10}},
  "color": {"field": "k", "type": "nominal",
    "scale": {"domain": ["s1","s2","s3","s4","s5","s6","s7","s8"], "range": ["#5B9BD5","#ED7D31","#A5A5A5","#FFC000","#4472C4","#70AD47","#255E91","#9E480E"]},
    "legend": {"orient": "none", "legendX": 164, "legendY": 430, "direction": "horizontal", "columns": 4, "title": null,
      "symbolType": "stroke", "symbolSize": 400, "symbolStrokeWidth": 2, "labelFontSize": 14.5, "labelColor": "#595959",
      "labelLimit": 400, "labelOffset": 2, "columnPadding": 15, "rowPadding": 1,
      "labelExpr": "'Outdoor wind speed(' + slice(datum.label, 1) + 'm/s)'"}}
}
}
